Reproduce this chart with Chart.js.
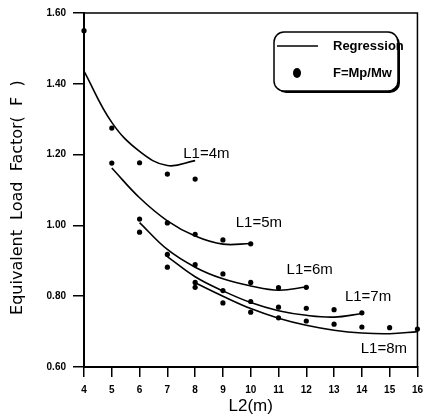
<!DOCTYPE html>
<html>
<head>
<meta charset="utf-8">
<script src="https://cdn.jsdelivr.net/npm/chart.js@4.4.0/dist/chart.umd.min.js"></script>
<style>
  html, body { margin: 0; padding: 0; background: #fff; }
</style>
</head>
<body>
<canvas id="factorChart" width="430" height="418"></canvas>
<script>
// L2 values (m) and measured F = Mp/Mw for each L1
const l2L1_4 = [4, 5, 6, 7, 8];
const fL1_4 = [1.55, 1.275, 1.177, 1.145, 1.131];
const fitL1_4 = [1.436, 1.291, 1.209, 1.169, 1.183];

const l2L1_5 = [5, 6, 7, 8, 9, 10];
const fL1_5 = [1.176, 1.018, 1.007, 0.975, 0.959, 0.948];
const fitL1_5 = [1.162, 1.078, 1.013, 0.970, 0.947, 0.949];

const l2L1_6 = [6, 7, 8, 9, 10, 11, 12];
const fL1_6 = [0.981, 0.918, 0.889, 0.863, 0.839, 0.824, 0.825];
const fitL1_6 = [1.008, 0.932, 0.882, 0.849, 0.829, 0.817, 0.826];

const l2L1_7 = [7, 8, 9, 10, 11, 12, 13, 14];
const fL1_7 = [0.882, 0.839, 0.816, 0.785, 0.769, 0.766, 0.762, 0.753];
const fitL1_7 = [0.912, 0.855, 0.815, 0.782, 0.759, 0.746, 0.741, 0.751];

const l2L1_8 = [8, 9, 10, 11, 12, 13, 14, 15, 16];
const fL1_8 = [0.825, 0.781, 0.755, 0.739, 0.730, 0.721, 0.713, 0.711, 0.707];
const fitL1_8 = [0.838, 0.800, 0.765, 0.738, 0.718, 0.704, 0.696, 0.694, 0.700];

const curveNames = ['L1=4m', 'L1=5m', 'L1=6m', 'L1=7m', 'L1=8m'];
const l2Min = 4, l2Max = 16;
const fMin = 0.6, fMax = 1.6, fStep = 0.2;

const groups = [
  [l2L1_4, fL1_4, fitL1_4],
  [l2L1_5, fL1_5, fitL1_5],
  [l2L1_6, fL1_6, fitL1_6],
  [l2L1_7, fL1_7, fitL1_7],
  [l2L1_8, fL1_8, fitL1_8]
];

// where the curve names sit, in data units (x = L2, y = F)
const nameAnchors = [[7.57, 1.203], [9.46, 1.006], [11.29, 0.873], [13.39, 0.797], [13.96, 0.651]];

const toPts = (xs, ys) => xs.map((x, i) => ({ x: x, y: ys[i] }));

const datasets = groups.map((g, i) => ({
  label: curveNames[i],
  data: toPts(g[0], g[2]),
  showLine: true,
  borderColor: '#000',
  borderWidth: 1.6,
  pointRadius: 0,
  tension: 0.4,
  clip: false
}));

let allPts = [];
groups.forEach(g => { allPts = allPts.concat(toPts(g[0], g[1])); });
datasets.push({
  label: 'F=Mp/Mw',
  data: allPts,
  showLine: false,
  pointRadius: 2.6,
  pointBackgroundColor: '#000',
  pointBorderWidth: 0,
  clip: false
});

const framePlugin = {
  id: 'frame',
  afterDraw(chart) {
    const { ctx, chartArea: a, scales } = chart;
    ctx.save();
    ctx.strokeStyle = '#000';
    ctx.lineWidth = 1.5;
    ctx.beginPath();
    ctx.moveTo(a.left, a.top);
    ctx.lineTo(a.right, a.top);
    ctx.lineTo(a.right, a.bottom);
    ctx.stroke();

    // curve names
    ctx.fillStyle = '#000';
    ctx.font = '15px "Liberation Sans", Arial, sans-serif';
    ctx.textAlign = 'left';
    ctx.textBaseline = 'middle';
    nameAnchors.forEach((p, i) => {
      ctx.fillText(curveNames[i], scales.x.getPixelForValue(p[0]), scales.y.getPixelForValue(p[1]));
    });

    // legend box
    const bx = 274, by = 32, bw = 124, bh = 59, r = 10;
    ctx.fillStyle = '#000';
    ctx.beginPath();
    ctx.roundRect(bx + 2, by + 2, bw, bh, r);
    ctx.fill();
    ctx.fillStyle = '#fff';
    ctx.beginPath();
    ctx.roundRect(bx, by, bw, bh, r);
    ctx.fill();
    ctx.lineWidth = 1.5;
    ctx.stroke();

    ctx.lineWidth = 1.6;
    ctx.beginPath();
    ctx.moveTo(bx + 3, by + 14);
    ctx.lineTo(bx + 44, by + 14);
    ctx.stroke();
    ctx.fillStyle = '#000';
    ctx.beginPath();
    ctx.ellipse(bx + 23, by + 41, 4, 5, 0, 0, Math.PI * 2);
    ctx.fill();

    ctx.font = 'bold 13px "Liberation Sans Narrow", "Liberation Sans", sans-serif';
    ctx.fillText('Regression', bx + 59, by + 14);
    ctx.fillText('F=Mp/Mw', bx + 59, by + 41);
    ctx.restore();
  }
};

const tickFont = { family: '"Liberation Sans", Arial, sans-serif', weight: 'bold', size: 10 };

new Chart(document.getElementById('factorChart'), {
  type: 'scatter',
  data: { datasets: datasets },
  options: {
    responsive: false,
    animation: false,
    layout: { padding: { top: 12, right: 10, left: 0, bottom: 0 } },
    plugins: { legend: { display: false }, tooltip: { enabled: false } },
    scales: {
      x: {
        type: 'linear',
        min: l2Min,
        max: l2Max,
        ticks: { stepSize: 1, color: '#000', font: tickFont, padding: 7 },
        grid: { drawOnChartArea: false, tickLength: 10, color: '#000', lineWidth: 1.5 },
        border: { color: '#000', width: 2 },
        title: {
          display: true,
          text: 'L2(m)',
          color: '#000',
          font: { family: '"Liberation Sans", Arial, sans-serif', size: 17 },
          padding: { top: 0, bottom: 1 }
        },
        afterFit: (scale) => { scale.height = 51; }
      },
      y: {
        min: fMin,
        max: fMax,
        ticks: {
          stepSize: fStep,
          color: '#000',
          font: tickFont,
          padding: 7,
          callback: (v) => v.toFixed(2)
        },
        grid: { drawOnChartArea: false, tickLength: 11, color: '#000', lineWidth: 1.5 },
        border: { color: '#000', width: 2 },
        title: {
          display: true,
          text: 'Equivalent  Load  Factor(  F  )   ',
          color: '#000',
          font: { family: '"DejaVu Sans", sans-serif', size: 16 },
          padding: { top: 8, bottom: 0 }
        },
        afterFit: (scale) => { scale.width = 84; }
      }
    }
  },
  plugins: [framePlugin]
});
</script>
</body>
</html>
